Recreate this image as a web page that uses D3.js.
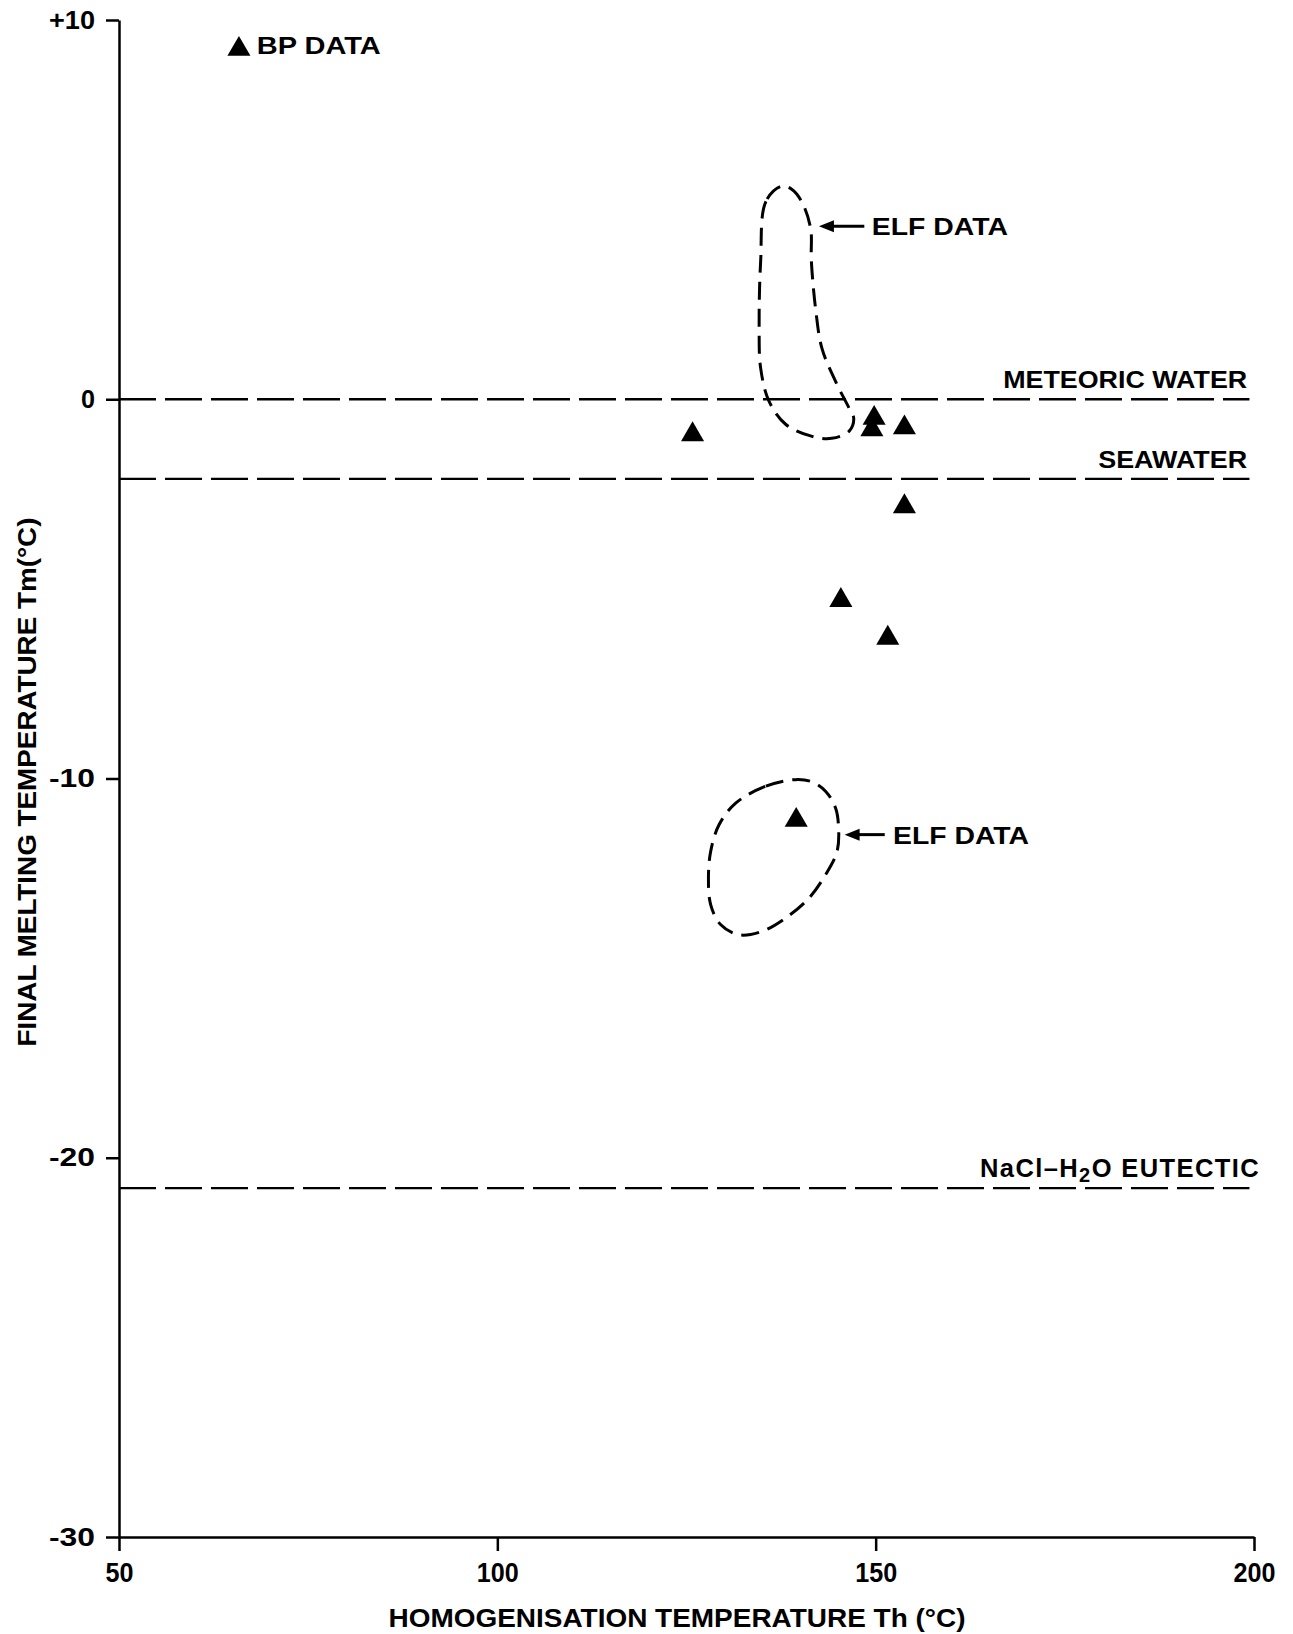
<!DOCTYPE html>
<html>
<head>
<meta charset="utf-8">
<script src="https://cdn.jsdelivr.net/npm/d3@7"></script>
<style>
  body { margin: 0; background: #fff; }
  text { font-family: "Liberation Sans", Arial, sans-serif; font-weight: bold; fill: #000; }
</style>
</head>
<body>
<svg id="chart" width="1293" height="1634"></svg>
<script>
// axis ticks
const xTicks = [50, 100, 150, 200];
const yTicks = [10, 0, -10, -20, -30];
const yTickLabels = ["+10", "0", "-10", "-20", "-30"];

// inclusion measurements (Th, Tm)
const sampleTh = [125.8, 149.8, 149.5, 153.8, 153.8, 145.4, 151.6, 139.5];
const sampleTm = [-0.93, -0.5, -0.8, -0.75, -2.83, -5.3, -6.3, -11.1];

// reference melting temperatures
const refNames = ["METEORIC WATER", "SEAWATER", "EUTECTIC"];
const refTm = [0, -2.1, -20.8];

// ELF data envelopes
const elfUpperTh = [137.6, 135.5, 134.8, 134.6, 134.8, 135.9, 138.1, 141.6, 144.2, 146.5, 147.1, 146.5, 144.7, 142.9, 142.1, 141.5, 141.4, 140.2, 138.9];
const elfUpperTm = [5.62, 5.22, 3.64, 1.87, 0.82, -0.05, -0.66, -0.98, -1.03, -0.84, -0.5, -0.24, 0.47, 1.34, 2.32, 3.64, 4.51, 5.22, 5.54];
const elfLowerTh = [139.4, 135.4, 131.5, 129.3, 128.2, 127.9, 128.2, 129.5, 131.9, 135.0, 138.1, 141.2, 143.4, 144.9, 145.1, 144.7, 143.4, 141.6];
const elfLowerTm = [-10.03, -10.21, -10.65, -11.22, -11.92, -12.62, -13.33, -13.85, -14.12, -14.03, -13.68, -13.15, -12.53, -11.92, -11.31, -10.78, -10.34, -10.09];

const svg = d3.select("#chart");

const x = d3.scaleLinear().domain([50, 200]).range([119, 1254]);
const y = d3.scaleLinear().domain([-30, 10]).range([1537, 20]);

// axes
const yAxis = svg.append("g")
  .attr("transform", `translate(${x(50)},0)`)
  .call(d3.axisLeft(y).tickValues(yTicks).tickFormat((d, i) => yTickLabels[i])
    .tickSize(13).tickSizeOuter(0).tickPadding(11));

const xAxis = svg.append("g")
  .attr("transform", `translate(0,${y(-30)})`)
  .call(d3.axisBottom(x).tickValues(xTicks).tickSize(14).tickSizeOuter(0).tickPadding(12));

[xAxis, yAxis].forEach(g => {
  g.select(".domain").attr("stroke", "#000").attr("stroke-width", 2.5);
  g.selectAll(".tick line").attr("stroke", "#000").attr("stroke-width", 2.5);
  g.selectAll(".tick text")
    .attr("font-family", "Liberation Sans, Arial, sans-serif")
    .attr("font-weight", "bold")
    .attr("fill", "#000")
    .attr("lengthAdjust", "spacingAndGlyphs");
});

xAxis.selectAll(".tick text")
  .attr("font-size", 27)
  .attr("textLength", d => String(d).length * 14);

yAxis.selectAll(".tick text")
  .attr("font-size", 25)
  .attr("textLength", (d, i) => yTickLabels[i].length === 1 ? 14 : 46);

// axis titles
svg.append("text")
  .attr("x", 677)
  .attr("y", 1627)
  .attr("text-anchor", "middle")
  .attr("font-size", 26)
  .attr("textLength", 577)
  .attr("lengthAdjust", "spacingAndGlyphs")
  .text("HOMOGENISATION TEMPERATURE Th (°C)");

svg.append("text")
  .attr("transform", "translate(36,782) rotate(-90)")
  .attr("text-anchor", "middle")
  .attr("font-size", 26)
  .attr("textLength", 529)
  .attr("lengthAdjust", "spacingAndGlyphs")
  .text("FINAL MELTING TEMPERATURE Tm(°C)");

// reference lines
svg.selectAll(".ref")
  .data(refTm)
  .join("line")
  .attr("class", "ref")
  .attr("x1", x(50))
  .attr("x2", x(199.4))
  .attr("y1", d => y(d))
  .attr("y2", d => y(d))
  .attr("stroke", "#000")
  .attr("stroke-width", 2.4)
  .attr("stroke-dasharray", "37,9");

svg.append("text")
  .attr("x", x(199.1)).attr("y", y(refTm[0]) - 11)
  .attr("text-anchor", "end").attr("font-size", 24)
  .attr("textLength", 244).attr("lengthAdjust", "spacingAndGlyphs")
  .text(refNames[0]);

svg.append("text")
  .attr("x", x(199.1)).attr("y", y(refTm[1]) - 11)
  .attr("text-anchor", "end").attr("font-size", 24)
  .attr("textLength", 149).attr("lengthAdjust", "spacingAndGlyphs")
  .text(refNames[1]);

const eut = svg.append("text")
  .attr("x", x(200.8)).attr("y", y(refTm[2]) - 11)
  .attr("text-anchor", "end").attr("font-size", 25.5)
  .attr("letter-spacing", 1.4);
eut.append("tspan").text("NaCl–H");
eut.append("tspan").attr("font-size", 20).attr("dy", 5).text("2");
eut.append("tspan").attr("dy", -5).text("O " + refNames[2]);

// ELF envelopes
const line = d3.line().curve(d3.curveCatmullRomClosed.alpha(0.5))
  .x(d => x(d[0])).y(d => y(d[1]));

[[elfUpperTh, elfUpperTm], [elfLowerTh, elfLowerTm]].forEach(([th, tm]) => {
  svg.append("path")
    .attr("d", line(th.map((v, i) => [v, tm[i]])))
    .attr("fill", "none")
    .attr("stroke", "#000")
    .attr("stroke-width", 3)
    .attr("stroke-dasharray", "18,9");
});

// arrows with labels
const arrowTipTh = [142.5, 145.9];
const arrowTailTh = [148.5, 151.2];
const arrowTm = [4.56, -11.48];
const arrowLabelTh = [149.5, 152.3];

arrowTm.forEach((tm, i) => {
  const xt = x(arrowTipTh[i]), xe = x(arrowTailTh[i]), yy = y(tm);
  svg.append("line")
    .attr("x1", xt + 10).attr("x2", xe)
    .attr("y1", yy).attr("y2", yy)
    .attr("stroke", "#000").attr("stroke-width", 3);
  svg.append("path")
    .attr("d", `M${xt},${yy} L${xt + 15},${yy - 6} L${xt + 15},${yy + 6} Z`)
    .attr("fill", "#000");
  svg.append("text")
    .attr("x", x(arrowLabelTh[i])).attr("y", yy + 9)
    .attr("font-size", 24)
    .attr("textLength", 136).attr("lengthAdjust", "spacingAndGlyphs")
    .text("ELF DATA");
});

// data points
const tri = d3.symbol().type(d3.symbolTriangle).size(230);
svg.selectAll(".pt")
  .data(sampleTh.map((v, i) => [v, sampleTm[i]]))
  .join("path")
  .attr("class", "pt")
  .attr("d", tri)
  .attr("transform", d => `translate(${x(d[0])},${y(d[1])})`)
  .attr("fill", "#000");

// legend
svg.append("path")
  .attr("d", tri)
  .attr("transform", `translate(${x(65.85)},${y(9.23)})`)
  .attr("fill", "#000");
svg.append("text")
  .attr("x", x(68.2)).attr("y", y(9.23) + 5)
  .attr("font-size", 24)
  .attr("textLength", 124).attr("lengthAdjust", "spacingAndGlyphs")
  .text("BP DATA");
</script>
</body>
</html>
